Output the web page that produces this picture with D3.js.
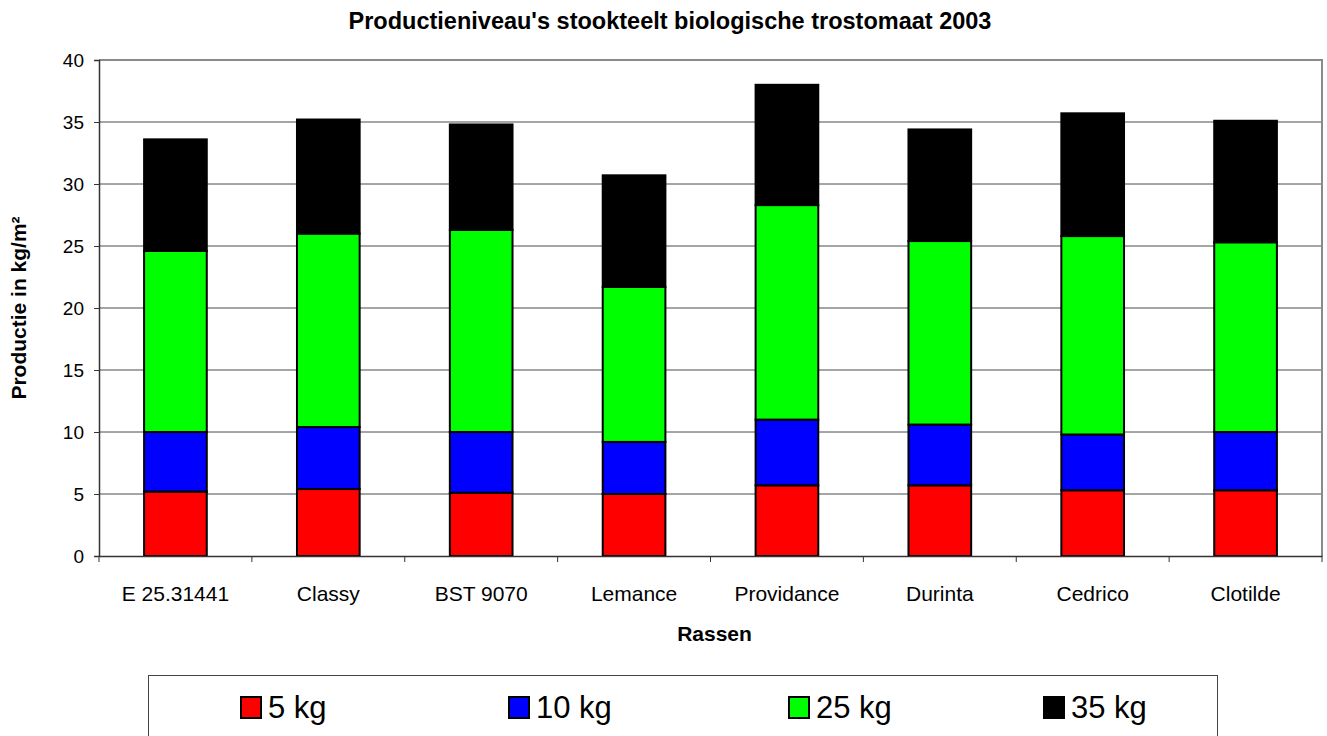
<!DOCTYPE html>
<html>
<head>
<meta charset="utf-8">
<script src="https://cdn.jsdelivr.net/npm/d3@7"></script>
<style>
  body { margin: 0; background: #fff; }
  svg { display: block; font-family: Arial, "Liberation Sans", sans-serif; }
</style>
</head>
<body>
<div id="chart"></div>
<script>
// data: cumulative production (kg/m2) per variety at each harvest level
var rassen = ["E 25.31441", "Classy", "BST 9070", "Lemance", "Providance", "Durinta", "Cedrico", "Clotilde"];
var niveaus = ["5 kg", "10 kg", "25 kg", "35 kg"];
var kg5  = [5.2, 5.4, 5.1, 5.0, 5.7, 5.7, 5.3, 5.3];
var kg10 = [10.0, 10.4, 10.0, 9.2, 11.0, 10.6, 9.8, 10.0];
var kg25 = [24.6, 26.0, 26.3, 21.7, 28.3, 25.4, 25.8, 25.3];
var kg35 = [33.6, 35.2, 34.8, 30.7, 38.0, 34.4, 35.7, 35.1];
var yTicks = [0, 5, 10, 15, 20, 25, 30, 35, 40];

var series = [kg5, kg10, kg25, kg35];
var kleuren = ["#ff0000", "#0000ff", "#00ff00", "#000000"];

var width = 1327, height = 736;
var plot = { left: 99, right: 1322, top: 60, bottom: 556 };

var svg = d3.select("#chart")
    .append("svg")
    .attr("width", width)
    .attr("height", height);

var x = d3.scaleBand()
    .domain(rassen)
    .range([plot.left, plot.right])
    .paddingInner(0.59)
    .paddingOuter(0.295);

var y = d3.scaleLinear()
    .domain([0, 40])
    .range([plot.bottom, plot.top]);

// gridlines
svg.append("g")
    .selectAll("line")
    .data(yTicks.filter(function(d) { return d > 0 && d < 40; }))
    .enter()
    .append("line")
    .attr("x1", plot.left)
    .attr("x2", plot.right)
    .attr("y1", function(d) { return y(d); })
    .attr("y2", function(d) { return y(d); })
    .attr("stroke", "#4d4d4d")
    .attr("stroke-width", 1);

// plot frame top + right
svg.append("path")
    .attr("d", "M" + plot.left + "," + y(40) + "H" + plot.right + "V" + plot.bottom)
    .attr("fill", "none")
    .attr("stroke", "#8a8a8a")
    .attr("stroke-width", 2);

// bars (each level stacked on top of the previous cumulative level)
series.forEach(function(s, i) {
    svg.append("g")
        .selectAll("rect")
        .data(rassen)
        .enter()
        .append("rect")
        .attr("x", function(d) { return x(d); })
        .attr("width", x.bandwidth())
        .attr("y", function(d, j) { return y(s[j]); })
        .attr("height", function(d, j) {
            var base = i > 0 ? series[i - 1][j] : 0;
            return y(base) - y(s[j]);
        })
        .attr("fill", kleuren[i])
        .attr("stroke", "#000")
        .attr("stroke-width", 2);
});

// y axis
var yAxis = svg.append("g")
    .attr("transform", "translate(" + plot.left + ",0)")
    .call(d3.axisLeft(y).tickValues(yTicks).tickSize(5).tickPadding(10));
yAxis.select(".domain").attr("stroke", "#333").attr("stroke-width", 1.5);
yAxis.selectAll(".tick line").attr("stroke", "#333");
yAxis.selectAll("text")
    .attr("font-size", "19px")
    .attr("fill", "#000")
    .attr("font-family", "Arial, 'Liberation Sans', sans-serif");

// x axis, ticks between categories
var xAxis = svg.append("g")
    .attr("transform", "translate(0," + plot.bottom + ")")
    .call(d3.axisBottom(x).tickSize(0).tickPadding(30));
xAxis.select(".domain").attr("stroke", "#333").attr("stroke-width", 1.5);
xAxis.selectAll("text")
    .attr("font-size", "21px")
    .attr("fill", "#000")
    .attr("font-family", "Arial, 'Liberation Sans', sans-serif");

svg.append("g")
    .selectAll("line")
    .data(d3.range(rassen.length + 1))
    .enter()
    .append("line")
    .attr("x1", function(d) { return plot.left + d * x.step(); })
    .attr("x2", function(d) { return plot.left + d * x.step(); })
    .attr("y1", plot.bottom)
    .attr("y2", plot.bottom + 6)
    .attr("stroke", "#333");

// titles
svg.append("text")
    .attr("x", 670)
    .attr("y", 29)
    .attr("text-anchor", "middle")
    .attr("font-weight", "bold")
    .attr("font-size", "23.5px")
    .text("Productieniveau's stookteelt biologische trostomaat 2003");

svg.append("text")
    .attr("x", (plot.left + plot.right) / 2 + 4)
    .attr("y", 641)
    .attr("text-anchor", "middle")
    .attr("font-weight", "bold")
    .attr("font-size", "21px")
    .text("Rassen");

svg.append("text")
    .attr("transform", "translate(26,308) rotate(-90)")
    .attr("text-anchor", "middle")
    .attr("font-weight", "bold")
    .attr("font-size", "21px")
    .text("Productie in kg/m²");

// legend
var legendX = [241, 509, 789, 1044];
var legend = svg.append("g");

legend.append("rect")
    .attr("x", 148.5)
    .attr("y", 675.5)
    .attr("width", 1069)
    .attr("height", 90)
    .attr("fill", "#fff")
    .attr("stroke", "#444")
    .attr("stroke-width", 1);

var items = legend.selectAll(".item")
    .data(niveaus)
    .enter()
    .append("g")
    .attr("class", "item")
    .attr("transform", function(d, i) { return "translate(" + legendX[i] + ",697)"; });

items.append("rect")
    .attr("width", 20)
    .attr("height", 21)
    .attr("fill", function(d, i) { return kleuren[i]; })
    .attr("stroke", "#000")
    .attr("stroke-width", 2);

items.append("text")
    .attr("x", 27)
    .attr("y", 21)
    .attr("font-size", "31px")
    .text(function(d) { return d; });
</script>
</body>
</html>
